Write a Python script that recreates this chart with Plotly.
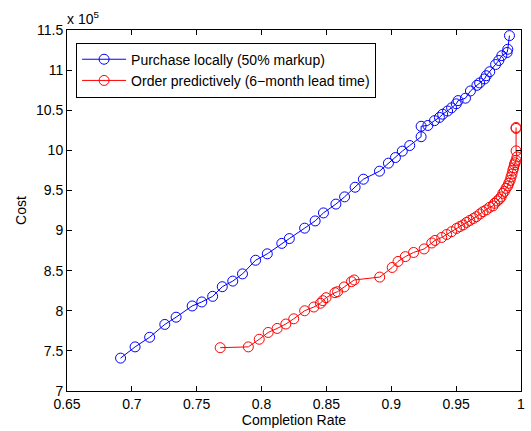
import plotly.graph_objects as go

# Completion rate (x) and cost in units of 1e5 (y)
local_rate = [0.6913, 0.7025, 0.7137, 0.7254, 0.7341, 0.7465, 0.7539, 0.7623, 0.7697, 0.7778,
              0.7853, 0.7954, 0.8044, 0.8156, 0.8214, 0.8332, 0.8413, 0.8477, 0.8573, 0.8640,
              0.8721, 0.8785, 0.8909, 0.8978, 0.9032, 0.9085, 0.9142, 0.9230, 0.9230, 0.9282,
              0.9333, 0.9371, 0.9396, 0.9434, 0.9465, 0.9501, 0.9515, 0.9572, 0.9610, 0.9660,
              0.9681, 0.9719, 0.9732, 0.9759, 0.9804, 0.9829, 0.9852, 0.9893, 0.9898, 0.9911]
local_cost = [7.41, 7.55, 7.67, 7.83, 7.92, 8.06, 8.11, 8.18, 8.30, 8.37,
              8.46, 8.63, 8.71, 8.84, 8.90, 9.03, 9.12, 9.22, 9.33, 9.42,
              9.54, 9.64, 9.74, 9.84, 9.91, 9.99, 10.06, 10.17, 10.30, 10.31,
              10.37, 10.41, 10.45, 10.49, 10.53, 10.58, 10.62, 10.65, 10.74, 10.81,
              10.84, 10.89, 10.93, 10.98, 11.07, 11.12, 11.18, 11.22, 11.26, 11.43]

pred_rate = [0.7681, 0.7898, 0.7982, 0.8051, 0.8120, 0.8187, 0.8248, 0.8332, 0.8403, 0.8454,
             0.8472, 0.8497, 0.8566, 0.8586, 0.8637, 0.8693, 0.8714, 0.8911, 0.9007, 0.9052,
             0.9108, 0.9172, 0.9253, 0.9312, 0.9337, 0.9389, 0.9427, 0.9465, 0.9503, 0.9528,
             0.9554, 0.9580, 0.9605, 0.9633, 0.9656, 0.9683, 0.9707, 0.9732, 0.9758, 0.9784,
             0.9796, 0.9817, 0.9834, 0.9847, 0.9860, 0.9872, 0.9885, 0.9898, 0.9906, 0.9916,
             0.9923, 0.9931, 0.9937, 0.9943, 0.9949, 0.9954, 0.9962, 0.9969, 0.9962, 0.9962,
             0.9962]
pred_cost = [7.54, 7.55, 7.645, 7.73, 7.78, 7.835, 7.90, 8.00, 8.047, 8.094,
             8.126, 8.163, 8.226, 8.238, 8.297, 8.363, 8.384, 8.42, 8.54, 8.615,
             8.675, 8.727, 8.771, 8.845, 8.877, 8.914, 8.951, 8.986, 9.026, 9.049,
             9.070, 9.101, 9.126, 9.151, 9.173, 9.207, 9.236, 9.257, 9.290, 9.307,
             9.340, 9.369, 9.394, 9.419, 9.464, 9.488, 9.527, 9.556, 9.590, 9.625,
             9.668, 9.706, 9.751, 9.781, 9.820, 9.845, 9.875, 9.918, 9.993, 10.273,
             10.285]

x_ticks = [0.65, 0.7, 0.75, 0.8, 0.85, 0.9, 0.95, 1.0]
x_tick_text = ["0.65", "0.7", "0.75", "0.8", "0.85", "0.9", "0.95", "1"]
y_ticks = [7, 7.5, 8, 8.5, 9, 9.5, 10, 10.5, 11, 11.5]
y_tick_text = ["7", "7.5", "8", "8.5", "9", "9.5", "10", "10.5", "11", "11.5"]

FONT = "Liberation Sans, Arial, Helvetica, sans-serif"

fig = go.Figure()
fig.add_trace(go.Scatter(
    x=local_rate, y=local_cost, mode="lines+markers",
    name="Purchase locally (50% markup)",
    line=dict(color="#0000ff", width=1),
    marker=dict(symbol="circle-open", size=10, color="#0000ff", line=dict(width=1)),
))
fig.add_trace(go.Scatter(
    x=pred_rate, y=pred_cost, mode="lines+markers",
    name="Order predictively (6\u2212month lead time)",
    line=dict(color="#ff0000", width=1),
    marker=dict(symbol="circle-open", size=10, color="#ff0000", line=dict(width=1)),
))

axis_common = dict(
    showline=True, linecolor="black", linewidth=1, mirror="ticks",
    ticks="inside", ticklen=5, tickcolor="black", tickwidth=1,
    showgrid=False, zeroline=False,
    tickfont=dict(family=FONT, size=14, color="black"),
)

fig.update_xaxes(range=[0.65, 1.0], tickvals=x_ticks, ticktext=x_tick_text,
                 title=dict(text="Completion Rate", font=dict(family=FONT, size=14, color="black"),
                            standoff=0),
                 **axis_common)
fig.update_yaxes(range=[7, 11.5], tickvals=y_ticks, ticktext=y_tick_text,
                 title=dict(text="Cost", font=dict(family=FONT, size=14, color="black"),
                            standoff=6),
                 **axis_common)

fig.add_annotation(text="x 10<sup>5</sup>", xref="paper", yref="paper", x=0, y=1,
                   xanchor="left", yanchor="bottom", showarrow=False, xshift=-2, yshift=1,
                   font=dict(family=FONT, size=14, color="black"))

fig.update_layout(
    width=531, height=431,
    margin=dict(l=67, r=6, t=30, b=40),
    plot_bgcolor="white", paper_bgcolor="white",
    font=dict(family=FONT, size=14, color="black"),
    legend=dict(x=0.02, y=0.965, xanchor="left", yanchor="top",
                bgcolor="white", bordercolor="black", borderwidth=1,
                font=dict(family=FONT, size=14, color="black"),
                tracegroupgap=0, itemwidth=44),
    showlegend=True,
)

fig.write_html("out.html")
